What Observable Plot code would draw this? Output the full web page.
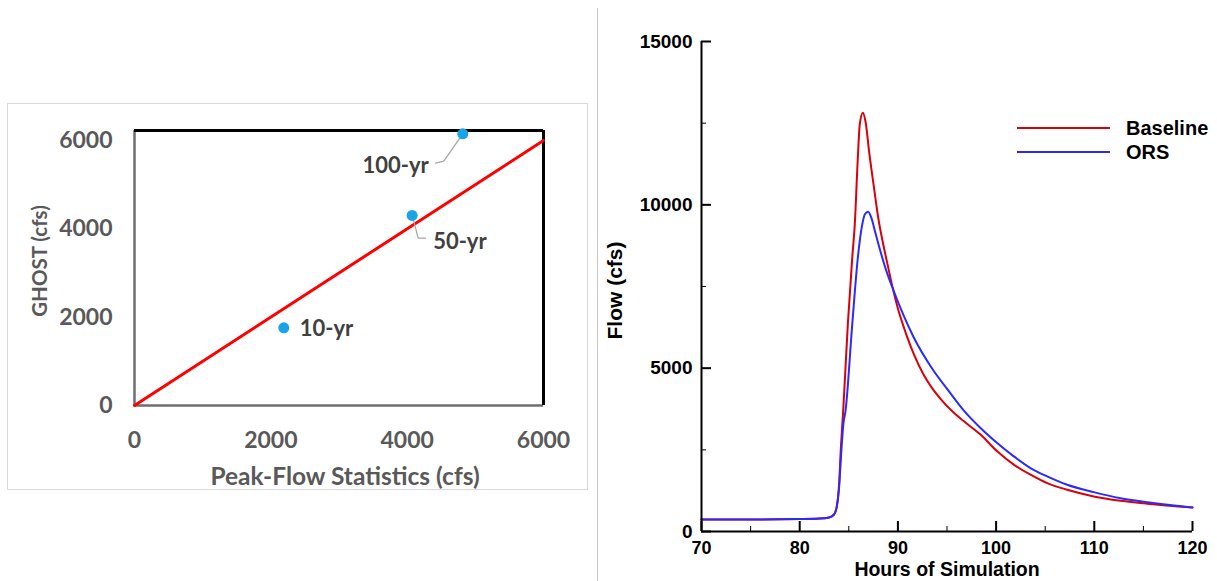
<!DOCTYPE html>
<html>
<head>
<meta charset="utf-8">
<script src="https://cdn.jsdelivr.net/npm/d3@7"></script>
<script src="https://cdn.jsdelivr.net/npm/@observablehq/plot@0.6"></script>
<style>
  html, body { margin: 0; padding: 0; background: #fff; }
  #wrap { position: relative; width: 1217px; height: 581px; overflow: hidden; }
  #wrap > svg, #wrap > div { position: absolute; }
  .legend-text { font-family: "Liberation Sans", Arial, sans-serif; font-weight: bold; font-size: 20px; color: #000; line-height: 1; }
</style>
</head>
<body>
<div id="wrap"></div>
<script>
// ---------- Left panel data ----------
const returnPeriods = ["10-yr", "50-yr", "100-yr"];
const peakFlowStats = [2190, 4073, 4816];   // x (cfs)
const ghostFlows    = [1759, 4302, 6151];   // y (cfs)
const oneToOneX = [0, 6000];
const oneToOneY = [0, 6000];
const ghostTicks = [0, 2000, 4000, 6000];
const ghostAxisMax = 6226;
const leader50x  = [4088, 4162, 4269];
const leader50y  = [4227, 3788, 3788];
const leader100x = [4782, 4537, 4415];
const leader100y = [6074, 5531, 5486];

// ---------- Right panel data ----------
const baselineHours = [70, 76, 80, 82, 83, 83.5, 83.8, 84.0, 84.2, 84.43, 84.9, 85.35, 85.61, 85.92, 86.12, 86.43, 86.7, 87.1, 87.6, 88.0, 88.5, 89.0, 89.4, 89.93, 90.95, 91.63, 92.65, 93.5, 94.34, 95.53, 96.72, 98.41, 100.11, 101.8, 103.5, 105.2, 107.24, 109.95, 112.67, 115.39, 120];
const baselineFlow  = [370, 370, 380, 395, 430, 520, 800, 1400, 2600, 3700, 6340, 8380, 9400, 11450, 12470, 12820, 12550, 11550, 10450, 9600, 8800, 8100, 7550, 6900, 5950, 5420, 4780, 4380, 4060, 3680, 3374, 2966, 2454, 2046, 1739, 1482, 1279, 1074, 942, 850, 736];
const orsHours = [70, 76, 80, 82, 83, 83.5, 83.8, 84.0, 84.25, 84.45, 84.66, 85.35, 85.92, 86.37, 86.65, 86.97, 87.3, 87.7, 88.2, 88.8, 89.4, 90.6, 91.63, 93.5, 95.3, 96.72, 98.41, 100.11, 101.8, 103.5, 105.2, 107.24, 109.95, 112.67, 115.39, 117.7, 120];
const orsFlow  = [370, 370, 380, 395, 430, 520, 800, 1300, 2500, 3300, 3680, 6340, 8380, 9400, 9720, 9790, 9600, 9150, 8600, 8000, 7500, 6600, 5930, 4980, 4250, 3700, 3169, 2709, 2301, 1942, 1687, 1432, 1206, 1021, 899, 810, 736];
const flowMajorTicks = [0, 5000, 10000, 15000];
const flowMinorTicks = [2500, 7500, 12500];
const hourMajorTicks = [70, 80, 90, 100, 110, 120];
const hourMinorTicks = [75, 85, 95, 105, 115];
const seriesNames = ["Baseline", "ORS"];
const seriesColors = ["#d8000a", "#2a2aff"];

const wrap = document.getElementById("wrap");
const intFmt = d3.format("d");

// ---------- Left panel ----------
const box = document.createElement("div");
Object.assign(box.style, {left: "7px", top: "103px", width: "581px", height: "387px", border: "1px solid #d9d9d9", boxSizing: "border-box"});
wrap.appendChild(box);

const divider = document.createElement("div");
Object.assign(divider.style, {left: "597px", top: "8px", width: "1px", height: "573px", background: "#c8c8c8"});
wrap.appendChild(divider);

const pts = returnPeriods.map((name, i) => ({name, x: peakFlowStats[i], y: ghostFlows[i]}));
const labelLayout = [
  {dx: 16, dy: 1, anchor: "start"},
  {dx: 21, dy: 26, anchor: "start"},
  {dx: -34, dy: 32, anchor: "end"}
];
const lineData = oneToOneX.map((x, i) => ({x, y: oneToOneY[i]}));
const l50 = leader50x.map((x, i) => ({x, y: leader50y[i]}));
const l100 = leader100x.map((x, i) => ({x, y: leader100y[i]}));

const left = Plot.plot({
  width: 597,
  height: 581,
  marginLeft: 134,
  marginRight: 54,
  marginTop: 130,
  marginBottom: 176,
  style: {fontFamily: "Lato, 'Open Sans', sans-serif", background: "transparent", overflow: "visible"},
  x: {domain: [0, 6000]},
  y: {domain: [0, ghostAxisMax]},
  marks: [
    Plot.ruleX([0], {stroke: "#6e6e6e", strokeWidth: 2.5}),
    Plot.ruleY([0], {stroke: "#6e6e6e", strokeWidth: 2.5}),
    Plot.ruleY([ghostAxisMax], {stroke: "#000", strokeWidth: 3}),
    Plot.ruleX([6000], {stroke: "#000", strokeWidth: 3}),
    Plot.axisX({ticks: ghostTicks, tickFormat: intFmt, tickSize: 0, tickPadding: 26, fontSize: 23, fontWeight: "bold", color: "#595959", label: null}),
    Plot.axisY({ticks: ghostTicks, tickFormat: intFmt, tickSize: 0, tickPadding: 22, fontSize: 23, fontWeight: "bold", color: "#595959", label: null}),
    Plot.line(lineData, {x: "x", y: "y", stroke: "#ff0000", strokeWidth: 3}),
    Plot.line(l50, {x: "x", y: "y", stroke: "#a6a6a6", strokeWidth: 1.3}),
    Plot.line(l100, {x: "x", y: "y", stroke: "#a6a6a6", strokeWidth: 1.3}),
    Plot.dot(pts, {x: "x", y: "y", r: 5.5, fill: "#1aa3e8", stroke: "none"}),
    ...pts.map((p, i) => Plot.text([p], {x: "x", y: "y", text: "name", dx: labelLayout[i].dx, dy: labelLayout[i].dy, textAnchor: labelLayout[i].anchor, fontSize: 22, fontWeight: "bold", fill: "#404040"})),
    Plot.text(["Peak-Flow Statistics (cfs)"], {frameAnchor: "bottom", textAnchor: "middle", lineAnchor: "middle", dx: 6, dy: 72, fontSize: 24.5, fontWeight: "bold", fill: "#595959"}),
    Plot.text(["GHOST (cfs)"], {frameAnchor: "left", textAnchor: "middle", lineAnchor: "middle", dx: -94, dy: -7, rotate: -90, fontSize: 20.5, fontWeight: "bold", fill: "#595959"})
  ]
});
left.style.left = "0px";
left.style.top = "0px";
wrap.appendChild(left);

// ---------- Right panel ----------
const flowData = [
  ...baselineHours.map((h, i) => ({series: seriesNames[0], hour: h, flow: baselineFlow[i]})),
  ...orsHours.map((h, i) => ({series: seriesNames[1], hour: h, flow: orsFlow[i]}))
];

const right = Plot.plot({
  width: 620,
  height: 581,
  marginLeft: 104,
  marginRight: 25,
  marginTop: 41,
  marginBottom: 50,
  style: {fontFamily: "'Liberation Sans', Arial, sans-serif", background: "transparent", overflow: "visible"},
  x: {domain: [70, 120]},
  y: {domain: [0, 15000]},
  color: {domain: seriesNames, range: seriesColors},
  marks: [
    Plot.line(flowData, {x: "hour", y: "flow", z: "series", stroke: "series", strokeWidth: 2, curve: "monotone-x"}),
    Plot.ruleX([70], {stroke: "#000", strokeWidth: 2}),
    Plot.ruleY([0], {stroke: "#000", strokeWidth: 2}),
    Plot.axisY({ticks: flowMajorTicks, tickFormat: intFmt, tickSize: -10, tickPadding: 19, strokeWidth: 2, fontSize: 19, fontWeight: "bold", color: "#000", label: null}),
    Plot.axisY({ticks: flowMinorTicks, tickSize: -5, tickFormat: () => "", strokeWidth: 1, color: "#000", label: null}),
    Plot.axisX({ticks: hourMajorTicks, tickFormat: intFmt, tickSize: -10, tickPadding: 20, strokeWidth: 2, fontSize: 18, fontWeight: "bold", color: "#000", label: null}),
    Plot.axisX({ticks: hourMinorTicks, tickSize: -5, tickFormat: () => "", strokeWidth: 1, color: "#000", label: null}),
    Plot.text(["Hours of Simulation"], {frameAnchor: "bottom", textAnchor: "middle", lineAnchor: "middle", dy: 38.5, fontSize: 19.5, fontWeight: "bold", fill: "#000"}),
    Plot.text(["Flow (cfs)"], {frameAnchor: "left", textAnchor: "middle", lineAnchor: "middle", dx: -86, dy: 4, rotate: -90, fontSize: 21, fontWeight: "bold", fill: "#000"})
  ]
});
right.style.left = "597px";
right.style.top = "0px";
wrap.appendChild(right);

// Legend (inside plot area, as in the reference)
const legend = document.createElement("div");
Object.assign(legend.style, {left: "1017px", top: "116px"});
seriesNames.forEach((name, i) => {
  const row = document.createElement("div");
  Object.assign(row.style, {display: "flex", alignItems: "center", height: "24px"});
  const sw = document.createElement("div");
  Object.assign(sw.style, {width: "93px", height: "2px", background: seriesColors[i], marginRight: "16px"});
  const tx = document.createElement("span");
  tx.className = "legend-text";
  tx.textContent = name;
  row.appendChild(sw);
  row.appendChild(tx);
  legend.appendChild(row);
});
wrap.appendChild(legend);
</script>
</body>
</html>
